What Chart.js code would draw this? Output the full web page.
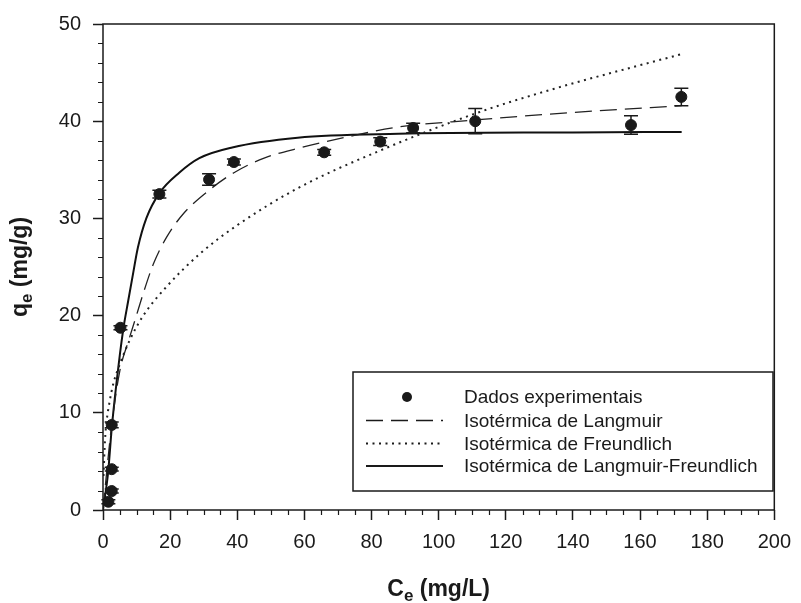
<!DOCTYPE html>
<html>
<head>
<meta charset="utf-8">
<script src="https://cdn.jsdelivr.net/npm/chart.js@4.4.1/dist/chart.umd.min.js"></script>
<style>
html, body { margin: 0; padding: 0; background: #fff; }
#wrap { width: 801px; height: 603px; position: relative; }
</style>
</head>
<body>
<div id="wrap"><canvas id="isotermas"></canvas></div>
<script>
// Dados experimentais (Ce em mg/L, qe em mg/g, desvio)
const expC   = [1.6, 2.6, 2.6, 2.6, 5.2, 16.8, 31.6, 39.0, 65.9, 82.6, 92.4, 110.9, 157.3, 172.3];
const expQ   = [0.85, 1.95, 4.2, 8.75, 18.75, 32.5, 34.0, 35.8, 36.8, 37.9, 39.3, 40.0, 39.6, 42.5];
const expErr = [0.2, 0.2, 0.2, 0.3, 0.2, 0.4, 0.6, 0.3, 0.3, 0.4, 0.5, 1.3, 0.95, 0.9];

// Curvas ajustadas
const langC = [0, 1.5, 2.5, 5, 7.5, 9.5, 12, 15, 19, 24, 31.6, 39, 48, 58, 73, 88, 110, 140, 172.4];
const langQ = [0, 5.3, 8.5, 14.3, 17.3, 19.5, 22.3, 25.3, 28.1, 30.5, 32.9, 34.7, 36.2, 37.2, 38.4, 39.4, 40.1, 40.9, 41.6];

const freuC = [0.15, 0.6, 1, 2, 3, 5, 8, 12, 19, 29, 40, 58, 82, 111, 135, 155, 172.4];
const freuQ = [3.5, 7.2, 8.9, 11.2, 12.9, 15.0, 17.5, 20.0, 23.0, 26.4, 29.3, 33.1, 36.9, 40.8, 43.4, 45.3, 46.9];

const lfC = [0, 1.5, 2.6, 4, 6, 7.5, 9, 10.4, 12.9, 16.8, 22.7, 28.7, 38.5, 58, 88, 140, 172.4];
const lfQ = [0, 3.8, 8.4, 13.0, 18.5, 21.5, 24.4, 27.0, 30.0, 32.6, 34.7, 36.2, 37.3, 38.3, 38.7, 38.85, 38.9];

// Eixos
const xMax = 200, xStep = 20, xMinor = 5;
const yMax = 50, yStep = 10, yMinor = 2;

const FONT = "'Liberation Sans', Arial, Helvetica, sans-serif";
const INK = '#1a1a1a';

function pts(xs, ys) {
    return xs.map((c, i) => ({ x: c, y: ys[i] }));
}

// Barras de erro verticais
const errorBars = {
    id: 'errorBars',
    afterDatasetsDraw(chart) {
        const { ctx, scales: { x, y } } = chart;
        ctx.save();
        ctx.strokeStyle = INK;
        ctx.lineWidth = 1.5;
        expC.forEach((c, i) => {
            const px = x.getPixelForValue(c);
            const top = y.getPixelForValue(expQ[i] + expErr[i]);
            const bot = y.getPixelForValue(expQ[i] - expErr[i]);
            ctx.beginPath();
            ctx.moveTo(px, top); ctx.lineTo(px, bot);
            ctx.moveTo(px - 7, top); ctx.lineTo(px + 7, top);
            ctx.moveTo(px - 7, bot); ctx.lineTo(px + 7, bot);
            ctx.stroke();
        });
        ctx.restore();
    }
};

// Moldura, ticks menores, titulos dos eixos e legenda
const frameAndText = {
    id: 'frameAndText',
    afterDraw(chart) {
        const { ctx, chartArea: a, scales: { x, y } } = chart;
        ctx.save();
        ctx.strokeStyle = INK;
        ctx.lineWidth = 1.5;
        ctx.strokeRect(a.left, a.top, a.right - a.left, a.bottom - a.top);

        // ticks menores
        ctx.lineWidth = 1.2;
        ctx.beginPath();
        for (let v = 0; v <= xMax; v += xMinor) {
            if (v % xStep === 0) continue;
            const px = Math.round(x.getPixelForValue(v)) + 0.5;
            ctx.moveTo(px, a.bottom); ctx.lineTo(px, a.bottom + 5);
        }
        for (let v = 0; v <= yMax; v += yMinor) {
            if (v % yStep === 0) continue;
            const py = Math.round(y.getPixelForValue(v)) + 0.5;
            ctx.moveTo(a.left, py); ctx.lineTo(a.left - 5, py);
        }
        ctx.stroke();

        // titulos
        ctx.fillStyle = INK;
        ctx.textBaseline = 'alphabetic';
        const big = 'bold 23px ' + FONT, small = 'bold 17px ' + FONT;

        function subTitle(main, sub, rest, cx, base) {
            ctx.font = big;
            const w1 = ctx.measureText(main).width;
            const w3 = ctx.measureText(rest).width;
            ctx.font = small;
            const w2 = ctx.measureText(sub).width;
            let sx = cx - (w1 + w2 + w3) / 2;
            ctx.font = big; ctx.textAlign = 'left';
            ctx.fillText(main, sx, base);
            ctx.font = small;
            ctx.fillText(sub, sx + w1, base + 5);
            ctx.font = big;
            ctx.fillText(rest, sx + w1 + w2, base);
        }
        subTitle('C', 'e', ' (mg/L)', (a.left + a.right) / 2, 596);
        ctx.save();
        ctx.translate(27, (a.top + a.bottom) / 2);
        ctx.rotate(-Math.PI / 2);
        subTitle('q', 'e', ' (mg/g)', 0, 0);
        ctx.restore();

        // legenda
        const lx = 353, ly = 372, lw = 420, lh = 119;
        ctx.fillStyle = '#fff';
        ctx.fillRect(lx, ly, lw, lh);
        ctx.lineWidth = 1.5;
        ctx.strokeStyle = INK;
        ctx.strokeRect(lx, ly, lw, lh);
        const rows = [397, 420.5, 443.5, 466];
        ctx.font = '19px ' + FONT;
        ctx.textBaseline = 'middle';
        ctx.textAlign = 'left';
        chart.data.datasets.forEach((ds, i) => {
            const ry = rows[i];
            ctx.strokeStyle = INK;
            ctx.fillStyle = INK;
            if (i === 0) {
                ctx.beginPath();
                ctx.arc(407, ry, 5, 0, Math.PI * 2);
                ctx.fill();
            } else {
                ctx.save();
                ctx.lineWidth = ds.borderWidth;
                ctx.setLineDash(ds.borderDash || []);
                ctx.beginPath();
                ctx.moveTo(366, ry); ctx.lineTo(443, ry);
                ctx.stroke();
                ctx.restore();
            }
            ctx.fillText(ds.label, 464, ry + 1);
        });
        ctx.restore();
    }
};

const ctx = document.getElementById('isotermas').getContext('2d');
new Chart(ctx, {
    type: 'scatter',
    data: {
        datasets: [
            {
                label: 'Dados experimentais',
                data: pts(expC, expQ),
                pointRadius: 5.5,
                pointBackgroundColor: INK,
                pointBorderColor: INK,
                showLine: false,
                order: 0
            },
            {
                label: 'Isotérmica de Langmuir',
                data: pts(langC, langQ),
                showLine: true,
                pointRadius: 0,
                borderColor: '#222',
                borderWidth: 1.3,
                borderDash: [17, 8],
                cubicInterpolationMode: 'monotone',
                order: 1
            },
            {
                label: 'Isotérmica de Freundlich',
                data: pts(freuC, freuQ),
                showLine: true,
                pointRadius: 0,
                borderColor: '#222',
                borderWidth: 2,
                borderDash: [2, 4.5],
                cubicInterpolationMode: 'monotone',
                order: 1
            },
            {
                label: 'Isotérmica de Langmuir-Freundlich',
                data: pts(lfC, lfQ),
                showLine: true,
                pointRadius: 0,
                borderColor: '#111',
                borderWidth: 2,
                cubicInterpolationMode: 'monotone',
                order: 1
            }
        ]
    },
    options: {
        responsive: true,
        maintainAspectRatio: false,
        animation: false,
        devicePixelRatio: 1,
        layout: { padding: { left: 0, right: 22, top: 24, bottom: 0 } },
        plugins: {
            legend: { display: false },
            tooltip: { enabled: false }
        },
        scales: {
            x: {
                type: 'linear',
                min: 0,
                max: xMax,
                afterFit: s => { s.height = 93; },
                ticks: {
                    stepSize: xStep,
                    padding: 10,
                    color: INK,
                    maxRotation: 0,
                    font: { family: FONT, size: 20 }
                },
                grid: {
                    drawOnChartArea: false,
                    drawTicks: true,
                    tickLength: 10,
                    tickColor: INK,
                    tickWidth: 1.5
                },
                border: { display: false }
            },
            y: {
                type: 'linear',
                min: 0,
                max: yMax,
                afterFit: s => { s.width = 103; },
                ticks: {
                    stepSize: yStep,
                    padding: 12,
                    color: INK,
                    font: { family: FONT, size: 20 }
                },
                grid: {
                    drawOnChartArea: false,
                    drawTicks: true,
                    tickLength: 10,
                    tickColor: INK,
                    tickWidth: 1.5
                },
                border: { display: false }
            }
        }
    },
    plugins: [errorBars, frameAndText]
});
</script>
</body>
</html>
